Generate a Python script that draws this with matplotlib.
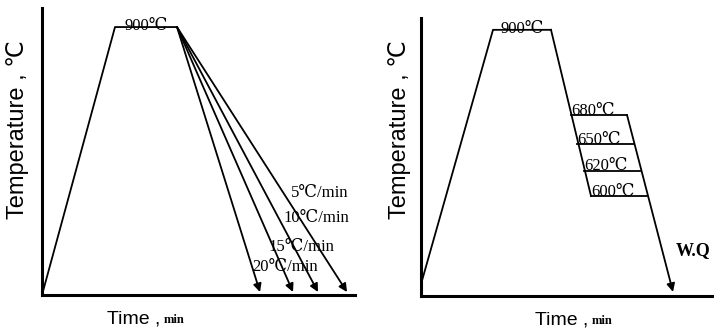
import matplotlib.pyplot as plt

# Schematic heat-treatment cycles (time and temperature in drawing units)
# Left: continuous cooling at different rates
heat_time = [0, 73, 135]
heat_temp = [0, 900, 900]
rate_labels = ['5℃/min', '10℃/min', '15℃/min', '20℃/min']
cool_end_time = [305, 276, 251, 218]
cool_end_temp = [10, 10, 10, 10]

# Right: isothermal holds then water quench
iso_heat_time = [0, 72, 130]
iso_heat_temp = [40, 900, 900]
hold_labels = ['680℃', '650℃', '620℃', '600℃']
hold_level = [612, 514, 423, 338]
hold_start = [150, 156, 163, 170]
hold_end = [206, 213, 219, 226]
wq_time = 252
wq_temp = 14

serif = ['Liberation Serif', 'DejaVu Serif']
sans = ['Liberation Sans', 'DejaVu Sans']

W, H = 714, 332
fig = plt.figure(figsize=(W / 100, H / 100), dpi=100)

ax1 = fig.add_axes([42 / W, (H - 295) / H, 313 / W, 287 / H])
ax2 = fig.add_axes([421 / W, (H - 296) / H, 293 / W, 278 / H])

for ax in (ax1, ax2):
    ax.spines['top'].set_visible(False)
    ax.spines['right'].set_visible(False)
    ax.spines['left'].set_linewidth(2.2)
    ax.spines['bottom'].set_linewidth(2.2)
    ax.set_xticks([])
    ax.set_yticks([])
    ax.patch.set_alpha(0)

ax1.set_xlim(0, 313)
ax1.set_ylim(0, 964)
ax2.set_xlim(0, 293)
ax2.set_ylim(0, 940)

lw = 1.3
arrow = dict(arrowstyle='-|>', mutation_scale=12, lw=lw, color='black',
             shrinkA=0, shrinkB=0)

# left panel
ax1.plot(heat_time, heat_temp, color='black', lw=lw)
for t, T in zip(cool_end_time, cool_end_temp):
    ax1.annotate('', xy=(t, T), xytext=(heat_time[-1], heat_temp[-1]),
                 arrowprops=arrow)
ax1.text((heat_time[1] + heat_time[2]) / 2, heat_temp[1] + 2, '900℃',
         ha='center', va='center', fontsize=12, family=serif)

label_pos = [(249, 342), (241, 259), (226, 161), (210, 94)]
for lab, (x, y) in zip(rate_labels, label_pos):
    ax1.text(x, y, lab, ha='left', va='center', fontsize=12, family=serif,
             clip_on=False)

# right panel
ax2.plot(iso_heat_time, iso_heat_temp, color='black', lw=lw)
ax2.plot([iso_heat_time[-1], hold_start[-1]], [iso_heat_temp[-1], hold_level[-1]],
         color='black', lw=lw)
for lab, lev, s, e in zip(hold_labels, hold_level, hold_start, hold_end):
    ax2.plot([s, e], [lev, lev], color='black', lw=lw)
    ax2.text(s, lev - 12, lab, ha='left', va='bottom', fontsize=12, family=serif)
ax2.annotate('', xy=(wq_time, wq_temp), xytext=(hold_end[0], hold_level[0]),
             arrowprops=arrow)
ax2.text((iso_heat_time[1] + iso_heat_time[2]) / 2, iso_heat_temp[1] + 2, '900℃',
         ha='center', va='center', fontsize=12, family=serif)
ax2.text(255, 155, 'W.Q', ha='left', va='center', fontsize=13, family=serif,
         fontweight='bold', clip_on=False)

# axis titles
for xc, yc in ((18, 130), (400, 130)):
    fig.text(xc / W, 1 - yc / H, 'Temperature , ℃', rotation=90, ha='center',
             va='center', fontsize=17, family=sans)
for xc, yc in ((160, 319), (588, 320)):
    fig.text(xc / W, 1 - yc / H, 'Time ,', ha='right', va='center',
             fontsize=14, family=sans)
    fig.text((xc + 4) / W, 1 - (yc + 1) / H, 'min', ha='left', va='center',
             fontsize=9, family=serif, fontweight='bold')

fig.savefig('out.png', dpi=100)
